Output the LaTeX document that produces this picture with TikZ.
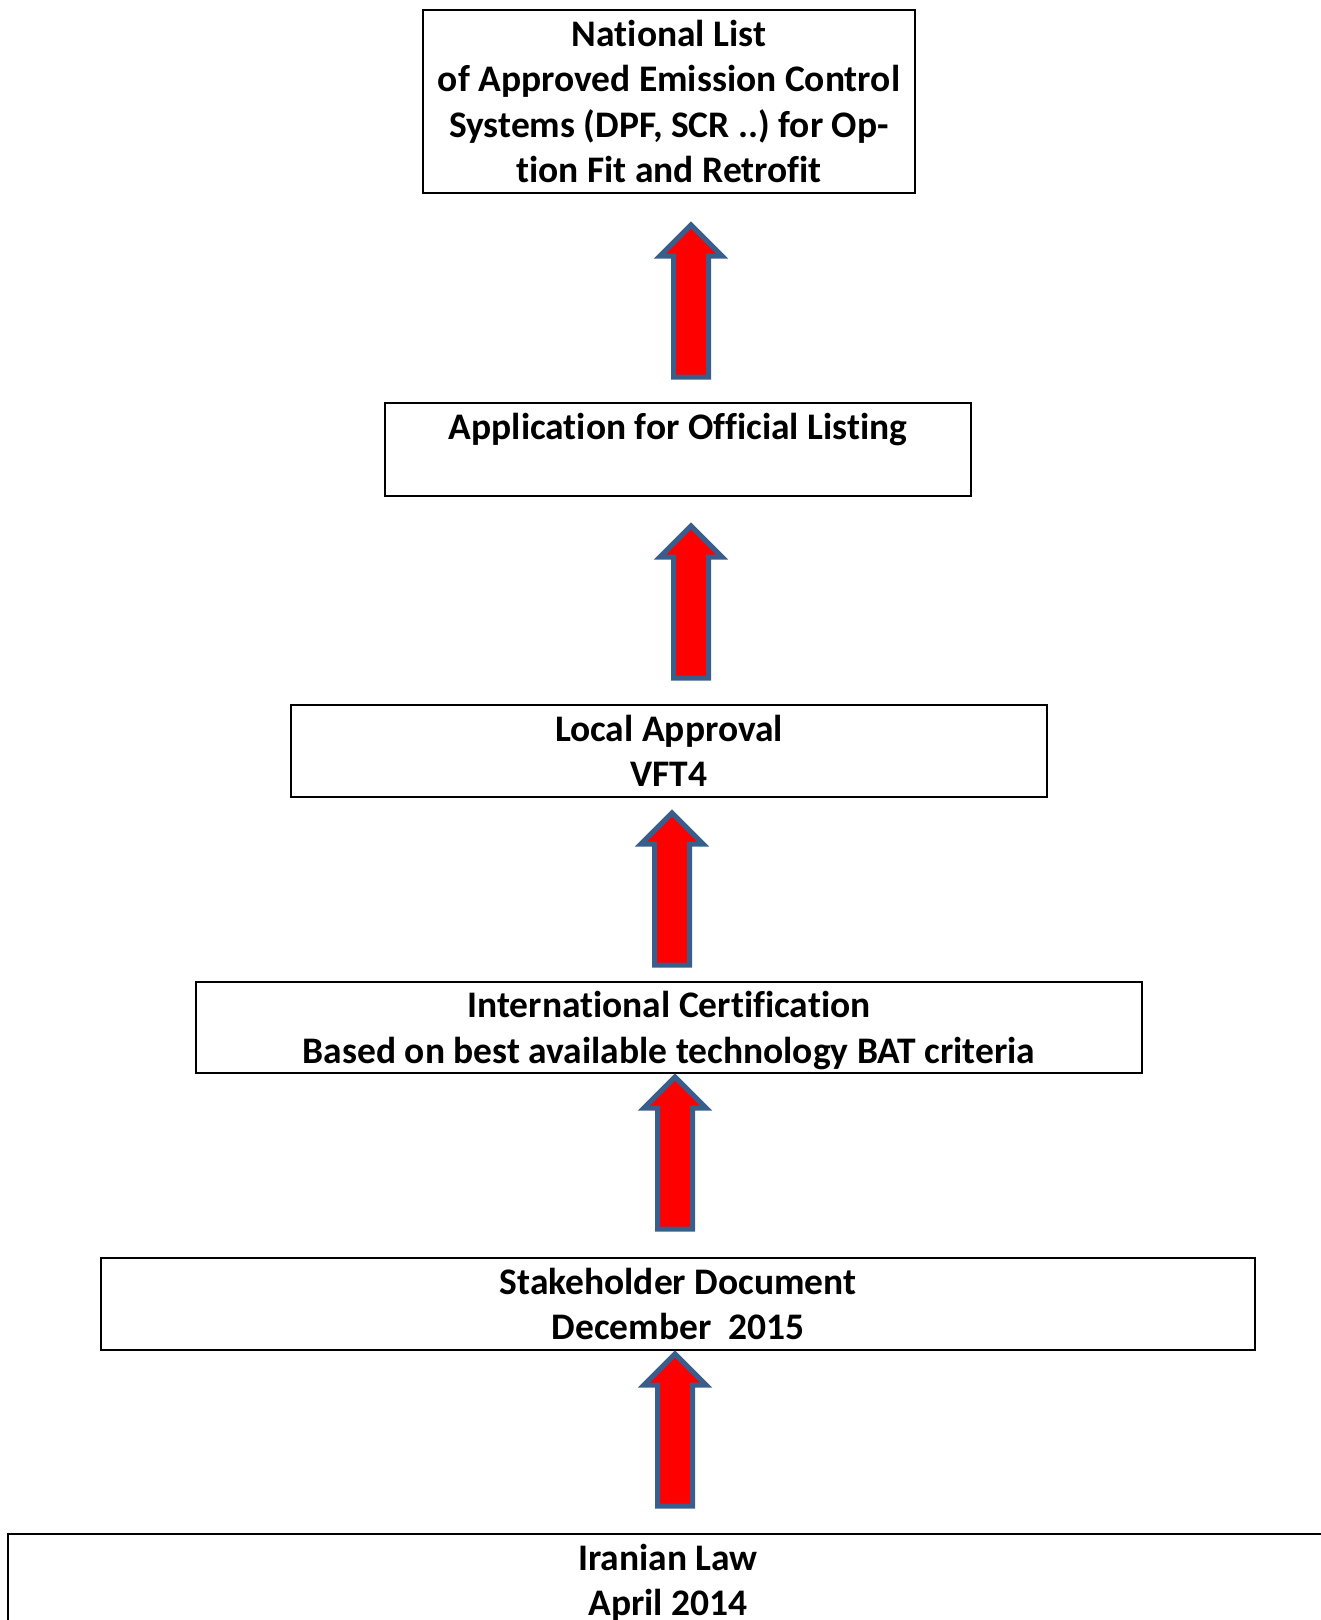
\documentclass[tikz,border=0pt]{standalone}
\usepackage{fontspec}
\setmainfont{Carlito}[Ligatures=NoCommon]
\usetikzlibrary{shapes.arrows}
\definecolor{arrowline}{HTML}{3A5E8C}
\frenchspacing

\begin{document}
\begin{tikzpicture}[x=1pt,y=-1pt]
                        \tikzstyle{stage}=[draw=black, line width=2.8pt, rectangle, align=center, inner sep=0pt,
                            font=\fontsize{37.5}{45.5}\selectfont\bfseries, text depth=-1.4pt]
                        \tikzstyle{uparrow}=[single arrow, draw=arrowline, fill=red, line width=5pt,
                            shape border rotate=90, inner sep=15pt, minimum height=152pt,
                            single arrow head extend=13.5pt, anchor=tail]
                        \useasboundingbox (0,0) rectangle (1321,1620);
                        \node[stage, minimum width=492pt, minimum height=183pt] (list) at (669,101.5)
                            {National List\\of Approved Emission Control\\Systems (DPF, SCR ..) for Op-\\tion Fit and Retrofit};
                        \node[stage, minimum width=586pt, minimum height=93pt] (apply) at (678,449.5)
                            {Application for Official Listing\\\mbox{}};
                        \node[stage, minimum width=756pt, minimum height=92pt] (local) at (669,751)
                            {Local Approval\\VFT4};
                        \node[stage, minimum width=946pt, minimum height=91pt] (intl) at (669,1027.5)
                            {International Certification\\Based on best available technology BAT criteria};
                        \node[stage, minimum width=1154pt, minimum height=92pt] (stake) at (678,1304)
                            {Stakeholder Document\\December~~2015};
                        \node[stage, minimum width=1320pt, minimum height=92pt] (law) at (668,1580)
                            {Iranian Law\\April 2014};
                        \node[uparrow] (a1) at (691,379.5) {};
                        \node[uparrow] (a2) at (691,680.5) {};
                        \node[uparrow] (a3) at (672,967.5) {};
                        \node[uparrow] (a4) at (675,1231.5) {};
                        \node[uparrow] (a5) at (675,1508.5) {};
                    \end{tikzpicture}
\end{document}
